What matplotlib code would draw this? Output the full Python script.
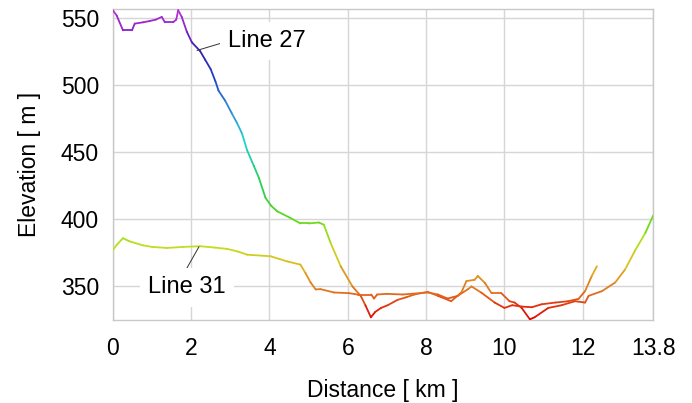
import numpy as np
import matplotlib
matplotlib.use("Agg")
import matplotlib.pyplot as plt
from matplotlib.collections import LineCollection
from matplotlib.colors import LinearSegmentedColormap, Normalize

plt.rcParams['font.family'] = ['Liberation Sans', 'DejaVu Sans']

# line 27 profile (km, m)
x27 = [0, 0.1, 0.26, 0.49, 0.56, 0.78, 0.95, 1.1, 1.25, 1.33, 1.54, 1.62, 1.67, 1.76,
       1.89, 2.02, 2.23, 2.36, 2.5, 2.62, 2.70, 2.87, 3.04, 3.17, 3.30, 3.43, 3.6, 3.73,
       3.90, 4.05, 4.20, 4.54, 4.79, 5.0, 5.26, 5.39, 5.56, 5.82, 6.12, 6.33, 6.45, 6.59,
       6.70, 6.85, 7.02, 7.27, 7.5, 7.70, 8.04, 8.30, 8.64, 8.90, 9.03, 9.24, 9.32, 9.50,
       9.67, 9.92, 10.13, 10.26, 10.44, 10.65, 10.77, 11.12, 11.46, 11.80, 12.06, 12.15,
       12.49, 12.83, 13.08, 13.34, 13.6, 13.8]
y27 = [556, 552, 541, 541, 546, 547, 548, 549, 551, 547, 547, 549, 556, 551,
       540, 532, 525.5, 519, 512, 503, 496, 488.5, 479, 472, 464, 451.5, 440, 431,
       416, 410, 406, 401, 397, 397, 397.7, 396, 382.6, 365, 350, 343, 336, 327,
       331, 334, 336, 340, 342, 344, 346, 343, 339, 345.5, 354, 355, 357.8, 352.7,
       345, 345, 339, 338, 334, 325.5, 327, 334, 336, 339, 338, 343,
       346.5, 353, 362.6, 377, 390, 403]

# line 31 profile (km, m)
x31 = [0, 0.1, 0.26, 0.43, 0.78, 1.0, 1.38, 1.8, 2.23, 2.6, 2.92, 3.2, 3.43, 4.03,
       4.45, 4.79, 4.92, 5.05, 5.18, 5.30, 5.65, 6.03, 6.25, 6.6, 6.67, 6.75, 7.0, 7.4,
       8.04, 8.30, 8.55, 8.81, 9.07, 9.16, 9.41, 9.75, 10.0, 10.2, 10.44, 10.7, 10.95,
       11.3, 11.63, 11.89, 12.06, 12.23, 12.36]
y31 = [377, 381, 386, 383.6, 380.6, 379.5, 378.7, 379.5, 380, 379, 378, 376, 373.7, 372.5,
       368.7, 366.3, 360, 353, 347.8, 348, 345.5, 345, 344, 344, 341, 344, 344.5, 344,
       345.5, 344, 341, 343, 348, 350, 345.4, 338, 334, 336, 335, 334.5, 336.7,
       338, 339, 340.7, 346.5, 357.8, 365]

xticks = [0, 2, 4, 6, 8, 10, 12, 13.8]
xticklabels = ["0", "2", "4", "6", "8", "10", "12", "13.8"]
yticks = [350, 400, 450, 500, 550]

# elevation colour scale
zmin, zmax = 325, 557
stops = [(325, '#e00000'), (335, '#e03010'), (345, '#e07020'), (355, '#e09020'),
         (365, '#e0b820'), (380, '#c0e020'), (400, '#60d820'), (420, '#30d040'),
         (440, '#20d090'), (460, '#20d0d0'), (480, '#3090d8'), (505, '#2040c8'),
         (525, '#3020b0'), (540, '#8020c8'), (557, '#c030d8')]
cmap = LinearSegmentedColormap.from_list(
    "elev", [((z - zmin) / (zmax - zmin), c) for z, c in stops])
norm = Normalize(zmin, zmax)

fig = plt.figure(figsize=(6.92, 4.03), dpi=100)
ax = fig.add_axes([0.163, 0.206, 0.781, 0.772])


def add_profile(x, y):
    pts = np.column_stack([x, y]).reshape(-1, 1, 2)
    segs = np.concatenate([pts[:-1], pts[1:]], axis=1)
    mid = (np.array(y[:-1]) + np.array(y[1:])) / 2
    lc = LineCollection(segs, cmap=cmap, norm=norm, linewidths=1.3,
                        capstyle='round', joinstyle='round', zorder=3)
    lc.set_array(mid)
    ax.add_collection(lc)


add_profile(x27, y27)
add_profile(x31, y31)

ax.set_xlim(0, 13.8)
ax.set_ylim(325, 557)
ax.set_xticks(xticks)
ax.set_xticklabels(xticklabels)
ax.set_yticks(yticks)
ax.tick_params(length=0, labelsize=16.5, pad=10)
ax.tick_params(axis='x', pad=12)
ax.grid(True, color='#d6d6d6', lw=1, zorder=0)
ax.set_axisbelow(True)
for s in ax.spines.values():
    s.set_color('#c8c8c8')
    s.set_linewidth(1)

ax.set_xlabel("Distance [ km ]", fontsize=16.5, labelpad=14)
ax.set_ylabel("Elevation [ m ]", fontsize=16.5, labelpad=14)

box = dict(boxstyle='square,pad=0.35', fc='white', ec='none')
ax.annotate("Line 27", xy=(2.15, 526), xytext=(2.95, 533), fontsize=17,
            ha='left', va='center', bbox=box, zorder=5,
            arrowprops=dict(arrowstyle='-', color='#333333', lw=0.7,
                            relpos=(0, 0.5), shrinkA=0, shrinkB=0))
ax.annotate("Line 31", xy=(2.2, 379.6), xytext=(0.9, 349.3), fontsize=17,
            ha='left', va='center', bbox=box, zorder=5,
            arrowprops=dict(arrowstyle='-', color='#333333', lw=0.7,
                            relpos=(0.44, 1), shrinkA=0, shrinkB=0))

fig.savefig("out.png", dpi=100)
